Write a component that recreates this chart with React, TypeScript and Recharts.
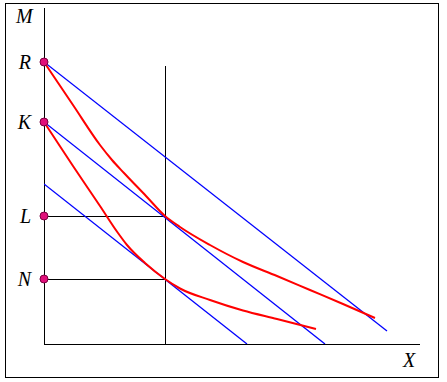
import {
  ComposedChart,
  XAxis,
  YAxis,
  Line,
  ReferenceLine,
  ReferenceDot,
} from 'recharts';

// values in chart units (X across, M up)
const xDomain = [0, 37.6];
const mDomain = [0, 33.6];

const axisLevels = [
  { name: 'R', m: 28.2 },
  { name: 'K', m: 22.2 },
  { name: 'L', m: 12.8 },
  { name: 'N', m: 6.5 },
];

const cutX = 12.1;
const cutTop = 27.8;

const budgetR = [
  { x: 0, y: 28.2 },
  { x: 34.3, y: 1.3 },
];
const budgetK = [
  { x: 0, y: 22.2 },
  { x: 28.1, y: 0 },
];
const budgetLow = [
  { x: 0, y: 16.0 },
  { x: 20.3, y: 0 },
];

const curveUpper = [
  { x: 0, y: 28.2 },
  { x: 2.9, y: 23.9 },
  { x: 5.6, y: 19.9 },
  { x: 6.8, y: 18.4 },
  { x: 8.0, y: 17.1 },
  { x: 10.2, y: 14.8 },
  { x: 12.1, y: 12.8 },
  { x: 13.6, y: 11.7 },
  { x: 16.6, y: 9.9 },
  { x: 19.9, y: 8.2 },
  { x: 23.3, y: 6.8 },
  { x: 26.6, y: 5.4 },
  { x: 29.9, y: 4.0 },
  { x: 33.1, y: 2.6 },
];

const curveLower = [
  { x: 0, y: 22.2 },
  { x: 2.9, y: 17.8 },
  { x: 5.6, y: 13.8 },
  { x: 7.4, y: 11.1 },
  { x: 8.3, y: 9.9 },
  { x: 10.1, y: 8.1 },
  { x: 12.1, y: 6.5 },
  { x: 13.6, y: 5.55 },
  { x: 16.6, y: 4.4 },
  { x: 19.9, y: 3.35 },
  { x: 23.3, y: 2.5 },
  { x: 27.2, y: 1.5 },
];

const font = '"Liberation Serif", "DejaVu Serif", serif';

const letterStyle: any = {
  position: 'absolute',
  fontFamily: font,
  fontStyle: 'italic',
  fontSize: 20,
  lineHeight: '20px',
  color: '#000',
};

const blackLine: any = { stroke: '#000', strokeWidth: 1, shapeRendering: 'crispEdges' };

export default function App() {
  return (
    <div style={{ position: 'absolute', left: 0, top: 0, width: 447, height: 382 }}>
      <div
        style={{
          position: 'absolute',
          left: 5,
          top: 3,
          width: 434,
          height: 375,
          boxSizing: 'border-box',
          border: '1px solid #000',
        }}
      />
      <div style={{ position: 'absolute', left: 0, top: 0 }}>
        <ComposedChart
          width={447}
          height={382}
          margin={{ top: 8, right: 27, left: 44, bottom: 38 }}
        >
          <XAxis type="number" dataKey="x" domain={xDomain} allowDataOverflow hide />
          <YAxis type="number" dataKey="y" domain={mDomain} allowDataOverflow hide />
          {/* axes */}
          <ReferenceLine segment={[{ x: 0, y: 0 }, { x: xDomain[1], y: 0 }]} {...blackLine} />
          <ReferenceLine segment={[{ x: 0, y: 0 }, { x: 0, y: mDomain[1] }]} {...blackLine} />
          <ReferenceLine segment={[{ x: cutX, y: 0 }, { x: cutX, y: cutTop }]} {...blackLine} />
          <ReferenceLine
            segment={[{ x: 0, y: axisLevels[2].m }, { x: cutX, y: axisLevels[2].m }]}
            {...blackLine}
          />
          <ReferenceLine
            segment={[{ x: 0, y: axisLevels[3].m }, { x: cutX, y: axisLevels[3].m }]}
            {...blackLine}
          />
          <Line data={budgetR} dataKey="y" type="linear" stroke="#0000ff" strokeWidth={1.3} dot={false} isAnimationActive={false} />
          <Line data={budgetK} dataKey="y" type="linear" stroke="#0000ff" strokeWidth={1.3} dot={false} isAnimationActive={false} />
          <Line data={budgetLow} dataKey="y" type="linear" stroke="#0000ff" strokeWidth={1.3} dot={false} isAnimationActive={false} />
          <Line data={curveUpper} dataKey="y" type="monotone" stroke="#ff0000" strokeWidth={2} dot={false} isAnimationActive={false} />
          <Line data={curveLower} dataKey="y" type="monotone" stroke="#ff0000" strokeWidth={2} dot={false} isAnimationActive={false} />
          {axisLevels.map((p) => (
            <ReferenceDot
              key={p.name}
              x={0}
              y={p.m}
              r={4}
              fill="#e0107a"
              stroke="#7a0040"
              strokeWidth={1}
              label={{
                value: p.name,
                position: 'left',
                offset: 9,
                fill: '#000',
                fontFamily: font,
                fontStyle: 'italic',
                fontSize: 20,
              }}
            />
          ))}
        </ComposedChart>
      </div>
      <div style={{ ...letterStyle, left: 16, top: 6 }}>M</div>
      <div style={{ ...letterStyle, left: 403, top: 350 }}>X</div>
    </div>
  );
}
